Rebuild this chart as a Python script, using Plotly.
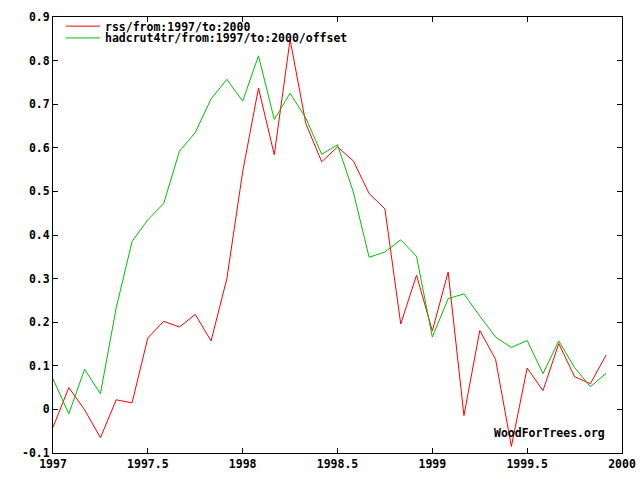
import plotly.graph_objects as go

# Monthly time axis (decimal years), Jan 1997 .. Dec 1999
months = list(range(36))
years = [1997 + m / 12 for m in months]

rss = [-0.041, 0.050, -0.001, -0.065, 0.022, 0.015, 0.164, 0.202, 0.189, 0.218,
       0.157, 0.300, 0.545, 0.737, 0.584, 0.848, 0.655, 0.568, 0.602, 0.570,
       0.495, 0.460, 0.196, 0.308, 0.180, 0.315, -0.014, 0.181, 0.115, -0.085,
       0.095, 0.043, 0.151, 0.075, 0.059, 0.125]

hadcrut = [0.070, -0.010, 0.092, 0.036, 0.233, 0.385, 0.435, 0.472, 0.592, 0.635,
           0.712, 0.757, 0.707, 0.811, 0.665, 0.725, 0.668, 0.585, 0.607, 0.499,
           0.349, 0.361, 0.389, 0.351, 0.166, 0.254, 0.265, 0.214, 0.166, 0.142,
           0.158, 0.082, 0.157, 0.096, 0.052, 0.083]

series_names = ["rss/from:1997/to:2000", "hadcrut4tr/from:1997/to:2000/offset"]

x_tickvals = [1997, 1997.5, 1998, 1998.5, 1999, 1999.5, 2000]
x_ticktext = ["1997", "1997.5", "1998", "1998.5", "1999", "1999.5", "2000"]
y_tickvals = [-0.1, 0, 0.1, 0.2, 0.3, 0.4, 0.5, 0.6, 0.7, 0.8, 0.9]
y_ticktext = ["-0.1", "0", "0.1", "0.2", "0.3", "0.4", "0.5", "0.6", "0.7", "0.8", "0.9"]

FONT = "DejaVu Sans Mono"
tfont = dict(family=FONT, size=11.5, color="black", weight="bold")

fig = go.Figure()
fig.add_trace(go.Scatter(x=years, y=rss, mode="lines", name=series_names[0],
                         legend="legend",
                         line=dict(color="#ff0000", width=1)))
fig.add_trace(go.Scatter(x=years, y=hadcrut, mode="lines", name=series_names[1],
                         legend="legend2",
                         line=dict(color="#00c000", width=1)))

axis_common = dict(showline=True, linecolor="black", linewidth=1, mirror="ticks",
                   ticks="inside", ticklen=5, tickcolor="black", tickwidth=1,
                   showgrid=False, zeroline=False, automargin=False,
                   tickfont=tfont)

fig.update_xaxes(range=[1997, 2000], tickvals=x_tickvals, ticktext=x_ticktext, **axis_common)
fig.update_yaxes(range=[-0.1, 0.9], tickvals=y_tickvals, ticktext=y_ticktext, **axis_common)

leg_common = dict(xanchor="left", yanchor="middle", bgcolor="rgba(0,0,0,0)",
                  borderwidth=0, itemwidth=34, font=tfont)

fig.update_layout(
    width=640, height=480,
    margin=dict(l=53, r=18, t=14, b=27),
    paper_bgcolor="white", plot_bgcolor="white",
    showlegend=True,
    legend=dict(x=0.014, y=0.979, **leg_common),
    legend2=dict(x=0.014, y=0.952, **leg_common),
    annotations=[dict(text="WoodForTrees.org", xref="paper", yref="paper",
                      x=0.771, y=0.047, xanchor="left", yanchor="middle",
                      showarrow=False, font=tfont)],
)

fig.write_html("out.html",
               config={"displayModeBar": False},
               post_script="document.body.style.margin='0px';document.body.style.overflow='hidden';")
